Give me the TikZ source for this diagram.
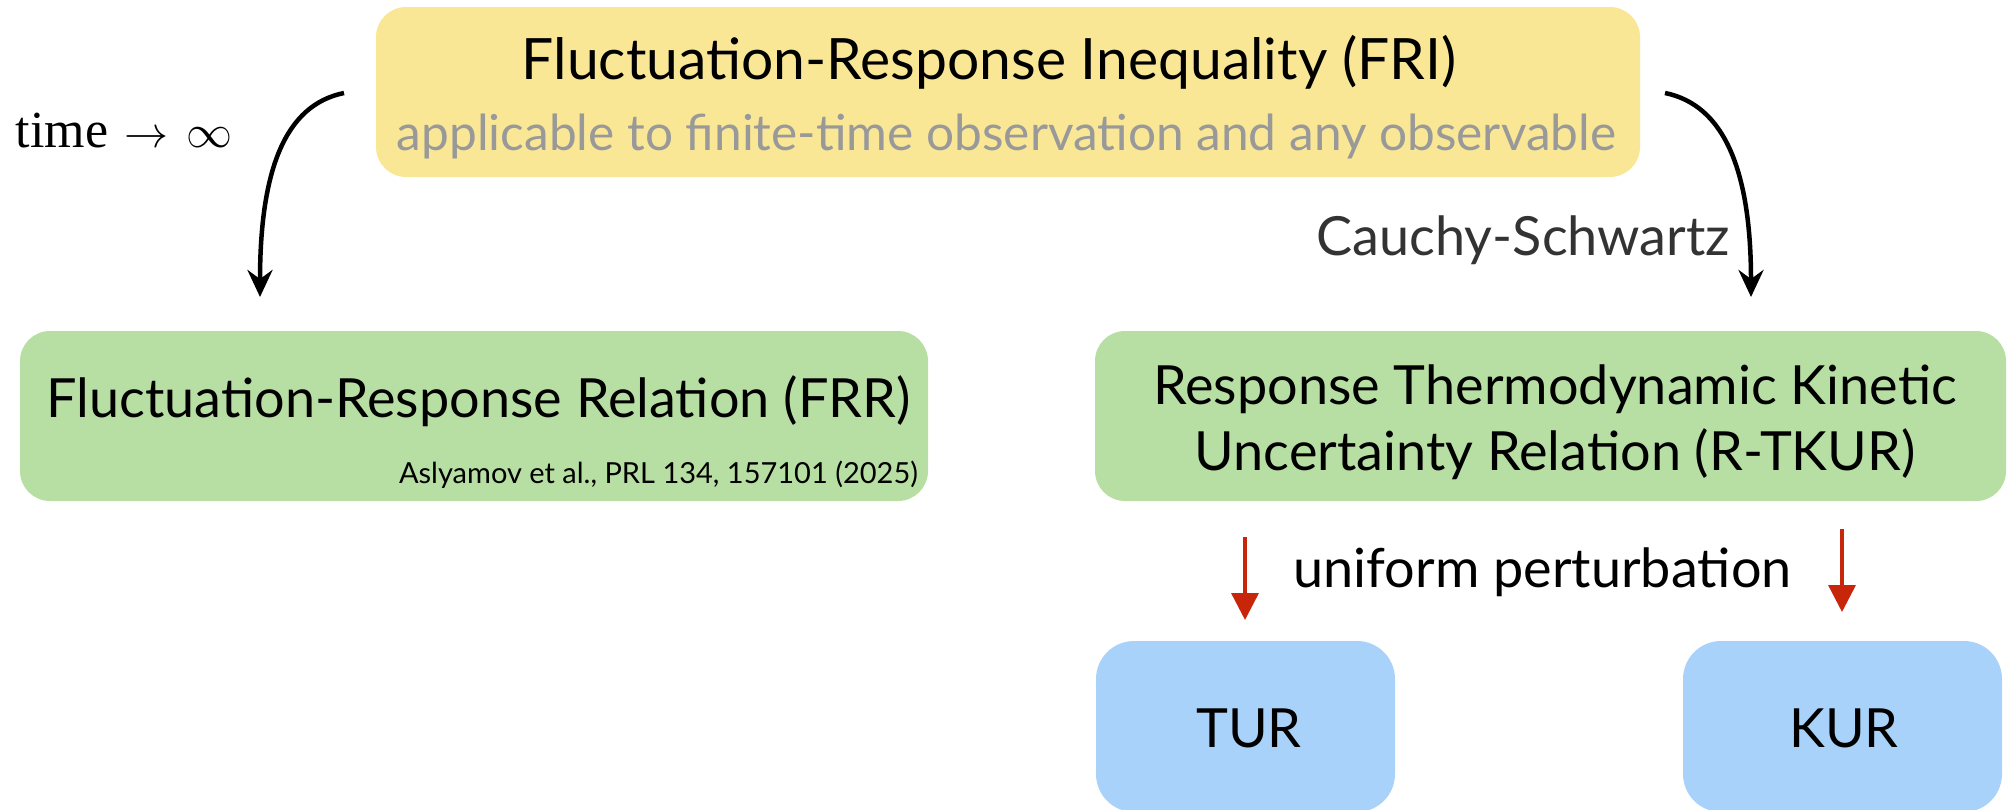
\RequirePackage{fix-cm}
\documentclass[tikz,border=0pt]{standalone}
\usepackage{fontspec}
\setmainfont{Lato}
\newfontfamily\timesf{Liberation Serif}
\usetikzlibrary{arrows.meta}
\definecolor{yellowc}{HTML}{F9E796}
\definecolor{greenc}{HTML}{B8DFA3}
\definecolor{bluec}{HTML}{A9D2FA}
\definecolor{redc}{HTML}{C8260A}
\definecolor{grayt}{HTML}{999999}
\definecolor{darkt}{HTML}{333333}
\tikzset{
  box/.style={rectangle, rounded corners=30pt, inner sep=0pt, outer sep=0pt, draw=none},
  lbl/.style={inner sep=0pt, outer sep=0pt, font=\fontsize{54}{66}\selectfont},
  blackarrow/.style={line width=4.5pt, -{Stealth[length=27pt,width=25pt,inset=9pt]}},
  redarrow/.style={line width=3.5pt, draw=redc, -{Triangle[length=27pt,width=27pt]}, shorten >=0pt}
}
\begin{document}
\begin{tikzpicture}[x=1pt,y=-1pt]
\useasboundingbox (0,0) rectangle (2010,809);
% boxes
\node[box, fill=yellowc, minimum width=1264pt, minimum height=170pt] (fri) at (1008,92) {};
\node[box, fill=greenc, minimum width=908pt, minimum height=170pt] (frr) at (474,416) {};
\node[box, fill=greenc, minimum width=911pt, minimum height=170pt] (rtkur) at (1550.5,416) {};
\node[box, rounded corners=38pt, fill=bluec, minimum width=299pt, minimum height=171pt] (tur) at (1245.5,726.5) {};
\node[box, rounded corners=38pt, fill=bluec, minimum width=319pt, minimum height=171pt] (kur) at (1842.5,726.5) {};
% texts
\node[lbl, anchor=base, font=\fontsize{57}{66}\selectfont] (frit) at (989,79) {Fluctuation-Response Inequality (FRI)};
\node[lbl, anchor=base, text=grayt, font=\fontsize{49.6}{60}\selectfont] (fris) at (1006.5,150) {applicable to finite-time observation and any observable};
\node[lbl, anchor=base west, font=\timesf\fontsize{52}{60}\selectfont] (timel) at (16,147) {time\hspace{16pt}{\fontsize{44}{50}\selectfont$\to$}\hspace{18pt}{\fontsize{46}{50}\selectfont$\infty$}};
\node[lbl, anchor=base east, text=darkt] (cs) at (1730,255) {Cauchy-Schwartz};
\node[lbl, anchor=base] (frrt) at (478.5,417) {Fluctuation-Response Relation (FRR)};
\node[lbl, anchor=base east, font=\fontsize{29}{34}\selectfont] (cite) at (918,483) {Aslyamov et al., PRL 134, 157101 (2025)};
\node[lbl, anchor=base] (rt1) at (1555,404) {Response Thermodynamic Kinetic};
\node[lbl, anchor=base] (rt2) at (1555,470) {Uncertainty Relation (R-TKUR)};
\node[lbl, anchor=base] (unif) at (1542.5,587) {uniform perturbation};
\node[lbl, anchor=base] (turt) at (1249,747) {TUR};
\node[lbl, anchor=base] (kurt) at (1844,747) {KUR};
% connectors
\coordinate (a1s) at (344,93);
\coordinate (a1e) at (260,297);
\coordinate (a2s) at (1665,93);
\coordinate (a2e) at (1751,297);
\draw[blackarrow] (a1s) .. controls (285,105) and (260,170) .. (a1e);
\draw[blackarrow] (a2s) .. controls (1724,105) and (1751,170) .. (a2e);
\coordinate (r1s) at (1245,537);
\coordinate (r1e) at (1245,620);
\coordinate (r2s) at (1842,529);
\coordinate (r2e) at (1842,612);
\draw[redarrow] (r1s) -- (r1e);
\draw[redarrow] (r2s) -- (r2e);
\end{tikzpicture}
\end{document}
